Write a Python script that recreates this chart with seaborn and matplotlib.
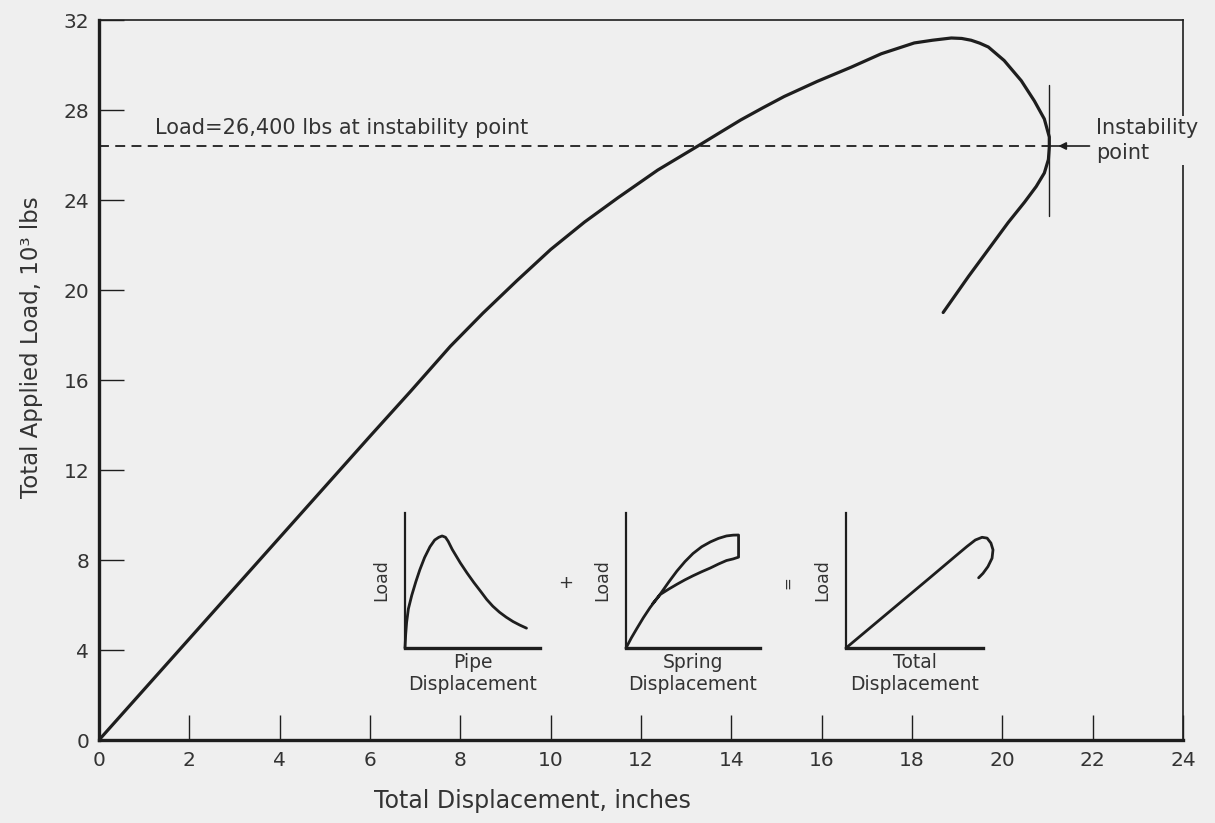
import matplotlib
matplotlib.use("Agg")
import matplotlib.pyplot as plt
import seaborn as sns

# Total load-displacement response of the pipe + spring system
displacement = [0.0, 1.0, 2.0, 3.0, 4.0, 5.0, 6.0, 6.9, 7.78, 8.5, 9.25, 10.0,
                10.75, 11.49, 12.37, 13.26, 13.75, 14.21, 14.7, 15.17, 15.9,
                16.65, 17.32, 17.7, 18.05, 18.45, 18.87, 19.1, 19.31, 19.5,
                19.69, 20.04, 20.42, 20.71, 20.93, 21.04, 21.04, 21.02, 20.93,
                20.75, 20.49, 20.13, 19.69, 19.25, 18.69]
load = [0.0, 2.25, 4.5, 6.75, 9.0, 11.25, 13.5, 15.5, 17.5, 18.97, 20.41, 21.8,
        23.02, 24.1, 25.33, 26.4, 27.0, 27.56, 28.1, 28.6, 29.27,
        29.9, 30.5, 30.75, 30.98, 31.1, 31.2, 31.18, 31.1, 30.97,
        30.8, 30.2, 29.3, 28.4, 27.6, 26.8, 26.36, 25.8, 25.2,
        24.6, 23.9, 23.0, 21.8, 20.6, 19.0]

instability_disp = 21.04
instability_load = 26.4
marker_span = [23.3, 29.1]

x_ticks = [0, 2, 4, 6, 8, 10, 12, 14, 16, 18, 20, 22, 24]
y_ticks = [0, 4, 8, 12, 16, 20, 24, 28, 32]

# Schematic sketches (normalised units)
pipe_x = [0.0, 0.005, 0.012, 0.025, 0.05, 0.08, 0.11, 0.145, 0.185, 0.22, 0.25,
          0.275, 0.30, 0.32, 0.35, 0.38, 0.41, 0.46, 0.51, 0.56, 0.605, 0.65,
          0.70, 0.75, 0.80, 0.85, 0.90]
pipe_y = [0.0, 0.10, 0.19, 0.29, 0.39, 0.49, 0.58, 0.67, 0.75, 0.80, 0.82,
          0.83, 0.82, 0.79, 0.73, 0.68, 0.63, 0.555, 0.485, 0.42, 0.36, 0.31,
          0.265, 0.228, 0.196, 0.17, 0.147]

spring_x = [0.0, 0.04, 0.082, 0.13, 0.18, 0.256, 0.32, 0.38, 0.44, 0.50, 0.565,
            0.63, 0.69, 0.75, 0.80, 0.84, 0.84,
            0.80, 0.75, 0.69, 0.63, 0.565, 0.50, 0.44, 0.38, 0.32, 0.256, 0.20]
spring_y = [0.0, 0.075, 0.146, 0.225, 0.30, 0.40, 0.49, 0.57, 0.64, 0.70, 0.75,
            0.786, 0.812, 0.83, 0.836, 0.837, 0.673,
            0.66, 0.648, 0.622, 0.593, 0.565, 0.535, 0.505, 0.472, 0.437, 0.397, 0.33]

total_x = [0.0, 0.2, 0.40, 0.6, 0.81, 0.883, 0.944, 0.993, 1.03, 1.058, 1.073,
           1.066, 1.036, 1.0, 0.968]
total_y = [0.0, 0.17, 0.34, 0.51, 0.69, 0.752, 0.80, 0.82, 0.814, 0.777, 0.727,
           0.665, 0.603, 0.553, 0.52]

bg = "#efefef"
ink = "#1e1e1e"
txt = "#333333"

sns.set_theme(style="white", rc={
    "figure.facecolor": bg,
    "axes.facecolor": bg,
    "savefig.facecolor": bg,
    "axes.edgecolor": ink,
    "text.color": txt,
    "axes.labelcolor": txt,
    "xtick.color": ink,
    "ytick.color": ink,
})
plt.rcParams["font.family"] = ["DejaVu Sans"]

W, H = 1215, 823
fig = plt.figure(figsize=(W / 100, H / 100), dpi=100)

# ---- main axes ----
ax = fig.add_axes([99 / W, (H - 740) / H, 1084 / W, 720 / H])
sns.lineplot(x=displacement, y=load, sort=False, estimator=None,
             color=ink, lw=2.3, ax=ax, zorder=4)
for ln in ax.lines:
    ln.set_solid_joinstyle("round")

ax.set_xlim(0, 24)
ax.set_ylim(0, 32)
ax.set_xticks(x_ticks)
ax.set_xticklabels([str(v) for v in x_ticks])
ax.set_yticks(y_ticks)
ax.set_yticklabels([str(v) for v in y_ticks])
ax.tick_params(axis="both", which="major", direction="in", length=18,
               width=1.0, labelsize=14.5, labelcolor=txt,
               bottom=True, left=True, top=False, right=False)
ax.tick_params(axis="x", pad=8)
ax.tick_params(axis="y", pad=7)

for side in ("left", "bottom"):
    ax.spines[side].set_linewidth(2.4)
for side in ("top", "right"):
    ax.spines[side].set_linewidth(1.2)
    ax.spines[side].set_visible(True)

ax.set_xlabel("Total Displacement, inches", fontsize=17)
ax.xaxis.set_label_coords(0.40, -0.068)
ax.set_ylabel("Total Applied Load, 10³ lbs", fontsize=16.5)
ax.yaxis.set_label_coords(-0.052, 0.545)

# load level at instability
ax.plot([0, instability_disp], [instability_load, instability_load],
        color=ink, lw=1.3, linestyle=(0, (5.5, 3.5)), zorder=3)
ax.text(1.25, instability_load + 0.35,
        f"Load={instability_load * 1000:,.0f} lbs at instability point",
        fontsize=15, color=txt, ha="left", va="bottom")

# instability marker
ax.plot([instability_disp, instability_disp], marker_span,
        color=ink, lw=1.0, zorder=3)
ax.annotate("", xy=(instability_disp + 0.2, instability_load),
            xytext=(21.93, instability_load),
            arrowprops=dict(arrowstyle="-|>", color=ink, lw=1.2,
                            mutation_scale=11, shrinkA=0, shrinkB=0))
ax.plot([instability_disp, instability_disp + 0.25],
        [instability_load, instability_load], color=ink, lw=1.2)
ax.text(22.07, instability_load + 0.25, "Instability\npoint",
        fontsize=15, color=txt, ha="left", va="center", linespacing=1.35,
        clip_on=False, zorder=6,
        bbox=dict(facecolor=bg, edgecolor="none", pad=1.0))

# ---- schematic insets ----
def sketch(left, right, xs, ys, xlabel):
    a = fig.add_axes([left / W, (H - 648) / H, (right - left) / W, 135 / H])
    a.patch.set_alpha(0)
    sns.lineplot(x=xs, y=ys, sort=False, estimator=None, color=ink,
                 lw=2.0, ax=a)
    for ln in a.lines:
        ln.set_clip_on(False)
        ln.set_solid_joinstyle("round")
    a.set_xlim(0, 1)
    a.set_ylim(0, 1)
    a.set_xticks([])
    a.set_yticks([])
    a.spines["top"].set_visible(False)
    a.spines["right"].set_visible(False)
    a.spines["left"].set_linewidth(1.6)
    a.spines["bottom"].set_linewidth(2.4)
    a.set_ylabel("Load", fontsize=12.5)
    a.yaxis.set_label_coords(-0.11, 0.5)
    a.set_xlabel(xlabel, fontsize=13.5, linespacing=1.2)
    a.xaxis.set_label_coords(0.5, -0.04)
    return a

sketch(405, 540, pipe_x, pipe_y, "Pipe\nDisplacement")
sketch(626, 760, spring_x, spring_y, "Spring\nDisplacement")
sketch(846, 983, total_x, total_y, "Total\nDisplacement")

fig.text(566 / W, 1 - 583 / H, "+", fontsize=13, color=txt,
         ha="center", va="center")
fig.text(788 / W, 1 - 583 / H, "=", fontsize=11, color=txt,
         ha="center", va="center", rotation=90)

fig.savefig("out.png", dpi=100, facecolor=bg)
